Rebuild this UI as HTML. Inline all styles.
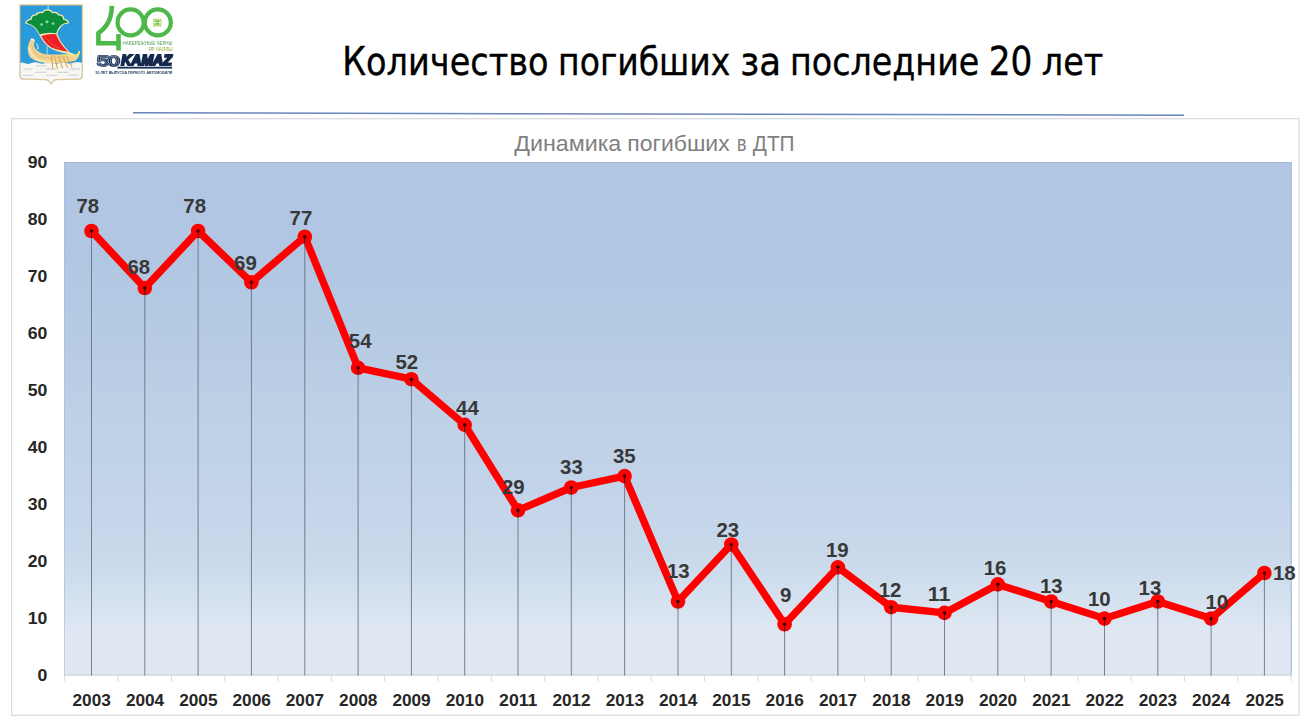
<!DOCTYPE html>
<html lang="ru">
<head>
<meta charset="utf-8">
<title>Количество погибших за последние 20 лет</title>
<style>
html,body{margin:0;padding:0;background:#fff;}
body{width:1312px;height:728px;overflow:hidden;font-family:"Liberation Sans","DejaVu Sans",sans-serif;}
svg{display:block;}
.ttl{font-family:"DejaVu Sans","Liberation Sans",sans-serif;font-size:38.4px;fill:#000;stroke:#000;stroke-width:0.4px;}
.ct{font-family:"Liberation Sans",sans-serif;font-size:21.2px;fill:#7f7f7f;}
.dl{font-family:"Liberation Sans",sans-serif;font-weight:bold;font-size:19.6px;fill:#383838;}
.ax{font-family:"Liberation Sans",sans-serif;font-weight:bold;font-size:16.4px;fill:#262626;}
</style>
</head>
<body>
<svg width="1312" height="728" viewBox="0 0 1312 728">
<defs>
<linearGradient id="pg" x1="0" y1="0" x2="0" y2="1">
<stop offset="0.000" stop-color="#b1c6e2"/>
<stop offset="0.171" stop-color="#b1c6e2"/>
<stop offset="0.327" stop-color="#b5cae3"/>
<stop offset="0.483" stop-color="#bdd0e6"/>
<stop offset="0.639" stop-color="#c3d4ea"/>
<stop offset="0.765" stop-color="#c9d9eb"/>
<stop offset="0.833" stop-color="#d1dfee"/>
<stop offset="0.872" stop-color="#d8e3f0"/>
<stop offset="0.911" stop-color="#dfe7f3"/>
<stop offset="0.941" stop-color="#e1e8f4"/>
<stop offset="1.000" stop-color="#e1e8f4"/>
</linearGradient>
</defs>
<rect width="1312" height="728" fill="#fff"/>
<defs>
<filter id="sf" x="-5%" y="-5%" width="110%" height="110%"><feGaussianBlur stdDeviation="0.45"/></filter>
<clipPath id="shc"><path d="M20.4 5.6H81.8V75.6Q81.8 78.6 78.8 78.7L57 79.1Q52.5 79.6 51.1 84.2Q49.7 79.6 45.2 79.1L23.4 78.7Q20.4 78.6 20.4 75.6Z"/></clipPath>
</defs>
<g filter="url(#sf)">
<!-- coat of arms -->
<path d="M19.3 4.3H82.9V75.8Q82.9 79.6 79 79.8L57.2 80.2Q53 80.6 51.1 85.6Q49.2 80.6 45 80.2L23.2 79.8Q19.3 79.6 19.3 75.8Z" fill="#e8c58a"/>
<g clip-path="url(#shc)">
<rect x="19" y="4" width="65" height="83" fill="#2a9ada"/>
<!-- waves -->
<path d="M19 63.4Q22 61.6 25 63.2Q28.5 64.8 32 62.8Q35.5 61.4 39 63Q42.5 64.6 46 62.8Q49.5 61.4 53 63Q56.5 64.6 60 62.8Q63.5 61.4 67 63Q70.5 64.6 74 62.6Q77.5 61.2 81 62.6L84 62V88H19Z" fill="#f7f6f1"/>
<g stroke="#d6d3e0" stroke-width="1.3" stroke-linecap="round" fill="none">
<path d="M36.5 65.8H46.5M23.5 69.2H32M46.5 69H56M70 69H79.5M35.5 72.3H46M58 72.3H68M23.5 75.4H32.5M46.5 75.4H56.5M68.5 75.2H78"/>
</g>
<!-- boat hull -->
<path d="M31 39.2Q34.2 38.4 34.6 41.4Q33.2 44.6 35.2 48.6Q39.6 54.2 48 54.6H76.2Q78.4 52.6 79.6 50.2Q80 57.4 75 61Q62 63.6 47 63.2Q36.5 62.6 30.6 57.8Q26.6 52.4 28.2 45.4Q29.2 41 31 39.2Z" fill="#efd391"/>
<path d="M29.4 47Q30.4 55 37 59.4Q44 62 56 62.2" stroke="#f8ecc6" stroke-width="1.4" fill="none"/>
<path d="M31.6 44.4Q32.6 51.4 38.6 55.6Q44 57.8 52 58" stroke="#e3b777" stroke-width="1" fill="none"/>
<path d="M30.8 39.6Q33.6 38.6 34.2 41" stroke="#fbf6e6" stroke-width="1.6" fill="none"/>
<path d="M36.2 43.5Q38.6 45.5 37.8 49.5" stroke="#9fd6f3" stroke-width="1.5" fill="none"/>
<path d="M62 55.4H77.6Q78.8 54 79.6 51" stroke="#f6e36d" stroke-width="1.6" fill="none"/>
<!-- oars -->
<g stroke="#d9a64e" stroke-width="1.1" fill="none" stroke-linecap="round">
<path d="M51.6 55.6L52.8 68.6M54.6 56L57.4 68.4M58.6 56L62.4 68M62.6 56L67.4 67.4M66.6 56.4L72 66.6"/>
</g>
<path d="M51.2 57.4H67.4" stroke="#e8c47c" stroke-width="1.2"/>
<!-- mast -->
<path d="M48.1 4.5V10M47.1 46.5V54.5" stroke="#cfe8d8" stroke-width="0.9" fill="none"/>
<g transform="translate(0 0.9)"><!-- sail outline (cream) -->
<path id="sl" d="M26 22.1Q27.4 18.6 31.4 18.4Q30.8 14.2 36.2 14.2Q37.4 10.6 42.6 11.8Q44.4 8.6 47.4 9.3Q50.4 8.6 52.2 11.8Q57.4 10.6 58.6 14.2Q64 14.2 63.4 18.4Q67.2 18.8 68.4 21.8Q63.4 22.2 61.2 24.6Q57.8 28 56.6 32.8Q58.2 38 60.4 41Q63.8 46.4 68.6 51.4Q71 52.8 73.4 53.6Q69 53.4 66 51.8Q59 50.6 53.6 48.2Q46.8 44.6 43.6 39.6Q41.4 36.8 39.4 32.8Q37.6 28.6 34.6 26Q31 22.8 26 22.1Z" fill="#efe7b4" stroke="#efe7b4" stroke-width="1.5" stroke-linejoin="round"/>
<!-- green top -->
<path d="M26.6 22Q27.8 19 31.8 18.8Q31.4 14.8 36.6 14.7Q37.8 11.2 42.8 12.4Q44.6 9.2 47.4 9.8Q50.2 9.2 52 12.4Q57 11.2 58.2 14.7Q63.4 14.8 63 18.8Q66.8 19.2 67.8 21.6Q63.2 22 60.8 24.4Q57.4 27.8 56.2 32.3Q48 31 39.8 33.4Q37.8 28.6 34.8 26Q31.2 22.8 26.6 22Z" fill="#0b8e3e"/>
<circle cx="41.6" cy="23.7" r="1.35" fill="#7fe086"/><circle cx="47" cy="20.8" r="1.5" fill="#7fe086"/><circle cx="53" cy="22.7" r="1.35" fill="#7fe086"/>
<!-- red part -->
<path d="M41.2 35.2Q48.6 32.6 56.2 33.4Q57.8 38 60 41Q63.4 46.2 67.8 50.8Q63.6 50.4 60.2 49.4Q55 48.4 51.4 46.6Q46.6 43.8 44.2 39.8Q42.4 37.2 41.2 35.2Z" fill="#ee2426"/>
<path d="M45 36Q50 43 60 48" stroke="#f6504a" stroke-width="0.8" fill="none"/></g>
</g>
</g>
<g filter="url(#sf)">
<!-- 400 -->
<g fill="none" stroke="#4db848" stroke-width="4.6">
<path d="M111.9 5.9Q111.6 18 106.4 25.4Q103.4 29.6 98.4 33.2V43.2H120.6"/>
<path d="M118.5 34.1V50.5"/>
<circle cx="130.6" cy="22.4" r="13.0" stroke-width="4.2"/>
<circle cx="157.8" cy="22.4" r="13.0" stroke-width="4.2"/>
</g>
<rect x="153" y="18.6" width="8.6" height="8" fill="#c3dd8a"/>
<rect x="155.6" y="20.6" width="3.4" height="4" fill="#5cbf4e"/>
<path d="M153 22.6H161.6" stroke="#f4f8e4" stroke-width="0.8"/>
<text x="122.6" y="45.3" font-family="'Liberation Sans',sans-serif" font-size="5.7" font-weight="normal" fill="#4e9f58" textLength="50" lengthAdjust="spacingAndGlyphs">НАБЕРЕЖНЫЕ ЧЕЛНЫ</text>
<text x="148.4" y="50.8" font-family="'Liberation Sans',sans-serif" font-size="5.2" font-weight="bold" fill="#a9c264" textLength="24.2" lengthAdjust="spacingAndGlyphs">ЯР ЧАЛЛЫ</text>
<!-- 50 KAMAZ -->
<g font-family="'Liberation Sans',sans-serif" font-weight="bold">
<g font-size="15.3" font-weight="normal" transform="translate(96.9 66.3) scale(1.42 1)">
<text x="0 7.7" y="0" fill="#19325a" stroke="#19325a" stroke-width="2.3" stroke-linejoin="round" vector-effect="non-scaling-stroke">50</text>
<text x="0 7.7" y="0" fill="none" stroke="#ffffff" stroke-width="0.38" stroke-opacity="0.75" vector-effect="non-scaling-stroke">50</text>
</g>
<text x="121.2" y="64.6" font-size="14" font-style="italic" fill="#12294e" stroke="#12294e" stroke-width="1.9" textLength="50.6" lengthAdjust="spacingAndGlyphs">KAMAZ</text>
<text x="95.6" y="73.9" font-size="4.1" fill="#2a3e63" textLength="76.8" lengthAdjust="spacingAndGlyphs">50 ЛЕТ ВЫПУСКА ПЕРВОГО АВТОМОБИЛЯ</text>
</g>
<rect x="117.5" y="66.7" width="54.6" height="1.9" fill="#19325a"/>
</g>


<g class="ttl">
<text x="342.3" y="74.9" textLength="206.2" lengthAdjust="spacingAndGlyphs">Количество</text>
<text x="558.1" y="74.9" textLength="172.2" lengthAdjust="spacingAndGlyphs">погибших</text>
<text x="740.2" y="74.9" textLength="40.8" lengthAdjust="spacingAndGlyphs">за</text>
<text x="790.0" y="74.9" textLength="189.3" lengthAdjust="spacingAndGlyphs">последние</text>
<text x="988.7" y="74.9" textLength="43.7" lengthAdjust="spacingAndGlyphs">20</text>
<text x="1041.8" y="74.9" textLength="61.5" lengthAdjust="spacingAndGlyphs">лет</text>
</g>
<path d="M133 112.75L1184 115.25" stroke="#6a85ba" stroke-width="1.5" fill="none"/>
<rect x="11.6" y="118.7" width="1287.4" height="596.7" fill="#fff" stroke="#dcdcdc" stroke-width="1.3"/>
<rect x="64.0" y="162.0" width="1228.0" height="513.5" fill="url(#pg)"/>
<rect x="64.0" y="162.0" width="1228.0" height="1" fill="#a3bbdd"/>
<rect x="64.0" y="162.0" width="1" height="513.5" fill="#a3bbdd" fill-opacity="0.6"/>
<rect x="1290.5" y="162.0" width="1.5" height="513.5" fill="#a9c0e0" fill-opacity="0.8"/>
<path d="M64.0 675H1292.0" stroke="#c9ced6" stroke-width="1" fill="none"/>
<path d="M64.8 675.5v6M118.2 675.5v6M171.5 675.5v6M224.8 675.5v6M278.1 675.5v6M331.4 675.5v6M384.7 675.5v6M438.0 675.5v6M491.4 675.5v6M544.7 675.5v6M598.0 675.5v6M651.3 675.5v6M704.6 675.5v6M757.9 675.5v6M811.2 675.5v6M864.5 675.5v6M917.9 675.5v6M971.2 675.5v6M1024.5 675.5v6M1077.8 675.5v6M1131.1 675.5v6M1184.4 675.5v6M1237.7 675.5v6M1291.1 675.5v6" stroke="#d9d9d9" stroke-width="1" fill="none"/>
<g class="ct">
<text x="514.2" y="151" textLength="107.1" lengthAdjust="spacingAndGlyphs">Динамика</text>
<text x="627.3" y="151" textLength="102.4" lengthAdjust="spacingAndGlyphs">погибших</text>
<text x="737.1" y="151" textLength="9.5" lengthAdjust="spacingAndGlyphs">в</text>
<text x="752.8" y="151" textLength="41.8" lengthAdjust="spacingAndGlyphs">ДТП</text>
</g>
<g class="ax">
<text x="37.5" y="681.0" textLength="9.8" lengthAdjust="spacingAndGlyphs">0</text>
<text x="27.7" y="624.0" textLength="19.6" lengthAdjust="spacingAndGlyphs">10</text>
<text x="27.7" y="567.0" textLength="19.6" lengthAdjust="spacingAndGlyphs">20</text>
<text x="27.7" y="510.0" textLength="19.6" lengthAdjust="spacingAndGlyphs">30</text>
<text x="27.7" y="453.0" textLength="19.6" lengthAdjust="spacingAndGlyphs">40</text>
<text x="27.7" y="396.0" textLength="19.6" lengthAdjust="spacingAndGlyphs">50</text>
<text x="27.7" y="339.0" textLength="19.6" lengthAdjust="spacingAndGlyphs">60</text>
<text x="27.7" y="282.0" textLength="19.6" lengthAdjust="spacingAndGlyphs">70</text>
<text x="27.7" y="225.0" textLength="19.6" lengthAdjust="spacingAndGlyphs">80</text>
<text x="27.7" y="168.0" textLength="19.6" lengthAdjust="spacingAndGlyphs">90</text>
</g>
<g class="ax">
<text x="72.5" y="706" textLength="38.3" lengthAdjust="spacingAndGlyphs">2003</text>
<text x="125.9" y="706" textLength="38.3" lengthAdjust="spacingAndGlyphs">2004</text>
<text x="179.2" y="706" textLength="38.3" lengthAdjust="spacingAndGlyphs">2005</text>
<text x="232.5" y="706" textLength="38.3" lengthAdjust="spacingAndGlyphs">2006</text>
<text x="285.8" y="706" textLength="38.3" lengthAdjust="spacingAndGlyphs">2007</text>
<text x="339.1" y="706" textLength="38.3" lengthAdjust="spacingAndGlyphs">2008</text>
<text x="392.4" y="706" textLength="38.3" lengthAdjust="spacingAndGlyphs">2009</text>
<text x="445.7" y="706" textLength="38.3" lengthAdjust="spacingAndGlyphs">2010</text>
<text x="499.1" y="706" textLength="38.3" lengthAdjust="spacingAndGlyphs">2011</text>
<text x="552.4" y="706" textLength="38.3" lengthAdjust="spacingAndGlyphs">2012</text>
<text x="605.7" y="706" textLength="38.3" lengthAdjust="spacingAndGlyphs">2013</text>
<text x="659.0" y="706" textLength="38.3" lengthAdjust="spacingAndGlyphs">2014</text>
<text x="712.3" y="706" textLength="38.3" lengthAdjust="spacingAndGlyphs">2015</text>
<text x="765.6" y="706" textLength="38.3" lengthAdjust="spacingAndGlyphs">2016</text>
<text x="818.9" y="706" textLength="38.3" lengthAdjust="spacingAndGlyphs">2017</text>
<text x="872.3" y="706" textLength="38.3" lengthAdjust="spacingAndGlyphs">2018</text>
<text x="925.6" y="706" textLength="38.3" lengthAdjust="spacingAndGlyphs">2019</text>
<text x="978.9" y="706" textLength="38.3" lengthAdjust="spacingAndGlyphs">2020</text>
<text x="1032.2" y="706" textLength="38.3" lengthAdjust="spacingAndGlyphs">2021</text>
<text x="1085.5" y="706" textLength="38.3" lengthAdjust="spacingAndGlyphs">2022</text>
<text x="1138.8" y="706" textLength="38.3" lengthAdjust="spacingAndGlyphs">2023</text>
<text x="1192.1" y="706" textLength="38.3" lengthAdjust="spacingAndGlyphs">2024</text>
<text x="1245.5" y="706" textLength="38.3" lengthAdjust="spacingAndGlyphs">2025</text>
</g>
<polyline points="91.5,231.0 144.8,288.0 198.1,231.0 251.4,282.3 304.8,236.7 358.1,367.8 411.4,379.2 464.7,424.8 518.0,510.3 571.3,487.5 624.6,476.1 678.0,601.5 731.3,544.5 784.6,624.3 837.9,567.3 891.2,607.2 944.5,612.9 997.8,584.4 1051.1,601.5 1104.5,618.6 1157.8,601.5 1211.1,618.6 1264.4,573.0" fill="none" stroke="#ff0000" stroke-width="7.4" stroke-linejoin="round" stroke-linecap="round"/>
<g fill="#ff0000">
<circle cx="91.5" cy="231.0" r="7.3"/>
<circle cx="144.8" cy="288.0" r="7.3"/>
<circle cx="198.1" cy="231.0" r="7.3"/>
<circle cx="251.4" cy="282.3" r="7.3"/>
<circle cx="304.8" cy="236.7" r="7.3"/>
<circle cx="358.1" cy="367.8" r="7.3"/>
<circle cx="411.4" cy="379.2" r="7.3"/>
<circle cx="464.7" cy="424.8" r="7.3"/>
<circle cx="518.0" cy="510.3" r="7.3"/>
<circle cx="571.3" cy="487.5" r="7.3"/>
<circle cx="624.6" cy="476.1" r="7.3"/>
<circle cx="678.0" cy="601.5" r="7.3"/>
<circle cx="731.3" cy="544.5" r="7.3"/>
<circle cx="784.6" cy="624.3" r="7.3"/>
<circle cx="837.9" cy="567.3" r="7.3"/>
<circle cx="891.2" cy="607.2" r="7.3"/>
<circle cx="944.5" cy="612.9" r="7.3"/>
<circle cx="997.8" cy="584.4" r="7.3"/>
<circle cx="1051.1" cy="601.5" r="7.3"/>
<circle cx="1104.5" cy="618.6" r="7.3"/>
<circle cx="1157.8" cy="601.5" r="7.3"/>
<circle cx="1211.1" cy="618.6" r="7.3"/>
<circle cx="1264.4" cy="573.0" r="7.3"/>
</g>
<path d="M91.5 231.0V675.6M144.8 288.0V675.6M198.1 231.0V675.6M251.4 282.3V675.6M304.8 236.7V675.6M358.1 367.8V675.6M411.4 379.2V675.6M464.7 424.8V675.6M518.0 510.3V675.6M571.3 487.5V675.6M624.6 476.1V675.6M678.0 601.5V675.6M731.3 544.5V675.6M784.6 624.3V675.6M837.9 567.3V675.6M891.2 607.2V675.6M944.5 612.9V675.6M997.8 584.4V675.6M1051.1 601.5V675.6M1104.5 618.6V675.6M1157.8 601.5V675.6M1211.1 618.6V675.6M1264.4 573.0V675.6" stroke="#5a5f69" stroke-opacity="0.75" stroke-width="1" fill="none"/>
<path d="M91.5 231.0v7M144.8 288.0v7M198.1 231.0v7M251.4 282.3v7M304.8 236.7v7M358.1 367.8v7M411.4 379.2v7M464.7 424.8v7M518.0 510.3v7M571.3 487.5v7M624.6 476.1v7M678.0 601.5v7M731.3 544.5v7M784.6 624.3v7M837.9 567.3v7M891.2 607.2v7M944.5 612.9v7M997.8 584.4v7M1051.1 601.5v7M1104.5 618.6v7M1157.8 601.5v7M1211.1 618.6v7M1264.4 573.0v7" stroke="#3a0000" stroke-opacity="0.75" stroke-width="1" fill="none"/>
<g fill="#380000" fill-opacity="0.9">
<circle cx="91.5" cy="231.0" r="1.8"/>
<circle cx="144.8" cy="288.0" r="1.8"/>
<circle cx="198.1" cy="231.0" r="1.8"/>
<circle cx="251.4" cy="282.3" r="1.8"/>
<circle cx="304.8" cy="236.7" r="1.8"/>
<circle cx="358.1" cy="367.8" r="1.8"/>
<circle cx="411.4" cy="379.2" r="1.8"/>
<circle cx="464.7" cy="424.8" r="1.8"/>
<circle cx="518.0" cy="510.3" r="1.8"/>
<circle cx="571.3" cy="487.5" r="1.8"/>
<circle cx="624.6" cy="476.1" r="1.8"/>
<circle cx="678.0" cy="601.5" r="1.8"/>
<circle cx="731.3" cy="544.5" r="1.8"/>
<circle cx="784.6" cy="624.3" r="1.8"/>
<circle cx="837.9" cy="567.3" r="1.8"/>
<circle cx="891.2" cy="607.2" r="1.8"/>
<circle cx="944.5" cy="612.9" r="1.8"/>
<circle cx="997.8" cy="584.4" r="1.8"/>
<circle cx="1051.1" cy="601.5" r="1.8"/>
<circle cx="1104.5" cy="618.6" r="1.8"/>
<circle cx="1157.8" cy="601.5" r="1.8"/>
<circle cx="1211.1" cy="618.6" r="1.8"/>
<circle cx="1264.4" cy="573.0" r="1.8"/>
</g>
<g class="dl">
<text x="76.4" y="213" textLength="22.7" lengthAdjust="spacingAndGlyphs">78</text>
<text x="127.4" y="274" textLength="22.7" lengthAdjust="spacingAndGlyphs">68</text>
<text x="183.3" y="213" textLength="22.7" lengthAdjust="spacingAndGlyphs">78</text>
<text x="234.1" y="270" textLength="22.7" lengthAdjust="spacingAndGlyphs">69</text>
<text x="289.6" y="225" textLength="22.7" lengthAdjust="spacingAndGlyphs">77</text>
<text x="348.8" y="348" textLength="22.7" lengthAdjust="spacingAndGlyphs">54</text>
<text x="395.4" y="369" textLength="22.7" lengthAdjust="spacingAndGlyphs">52</text>
<text x="456.1" y="415" textLength="22.7" lengthAdjust="spacingAndGlyphs">44</text>
<text x="502.0" y="494" textLength="22.7" lengthAdjust="spacingAndGlyphs">29</text>
<text x="560.1" y="474" textLength="22.7" lengthAdjust="spacingAndGlyphs">33</text>
<text x="612.9" y="463" textLength="22.7" lengthAdjust="spacingAndGlyphs">35</text>
<text x="666.9" y="578" textLength="22.7" lengthAdjust="spacingAndGlyphs">13</text>
<text x="716.4" y="537" textLength="22.7" lengthAdjust="spacingAndGlyphs">23</text>
<text x="780.1" y="602" textLength="11.4" lengthAdjust="spacingAndGlyphs">9</text>
<text x="825.9" y="557" textLength="22.7" lengthAdjust="spacingAndGlyphs">19</text>
<text x="878.7" y="597" textLength="22.7" lengthAdjust="spacingAndGlyphs">12</text>
<text x="927.7" y="601" textLength="22.7" lengthAdjust="spacingAndGlyphs">11</text>
<text x="983.7" y="575" textLength="22.7" lengthAdjust="spacingAndGlyphs">16</text>
<text x="1040.0" y="593" textLength="22.7" lengthAdjust="spacingAndGlyphs">13</text>
<text x="1088.0" y="606" textLength="22.7" lengthAdjust="spacingAndGlyphs">10</text>
<text x="1138.6" y="595" textLength="22.7" lengthAdjust="spacingAndGlyphs">13</text>
<text x="1205.4" y="609" textLength="22.7" lengthAdjust="spacingAndGlyphs">10</text>
<text x="1272.9" y="580" textLength="22.7" lengthAdjust="spacingAndGlyphs">18</text>
</g>
</svg>
</body>
</html>
